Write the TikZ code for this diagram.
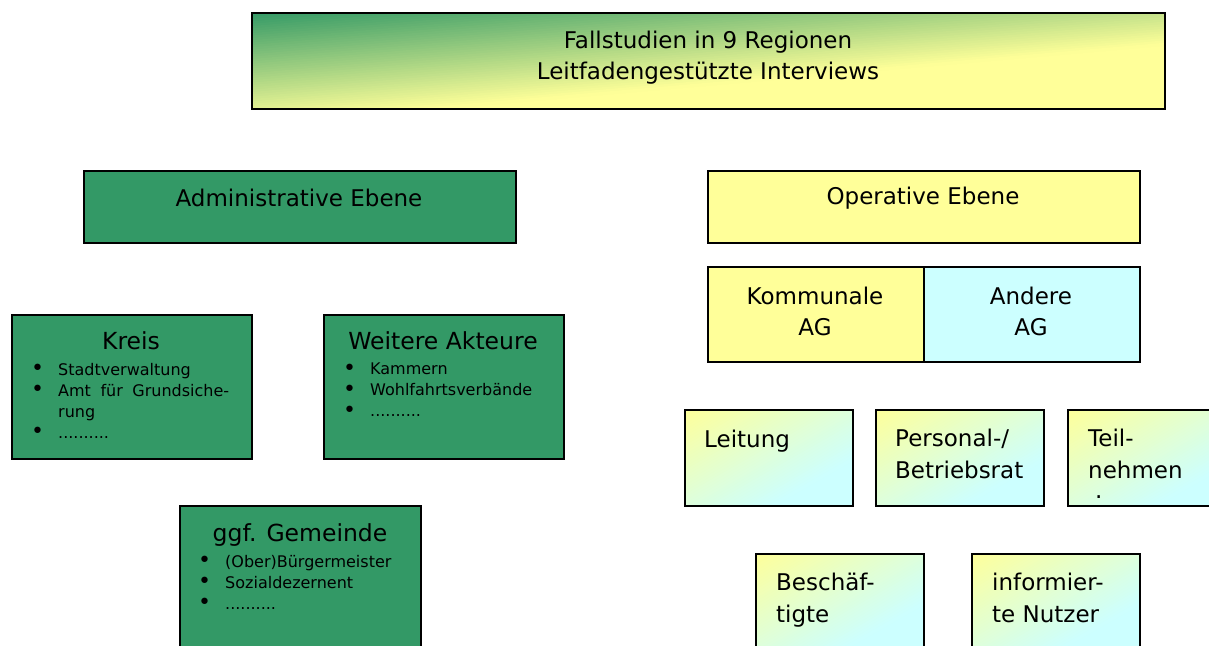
\documentclass[tikz,border=0pt]{standalone}
\usepackage{fontspec}
\setmainfont{DejaVu Sans}
\definecolor{grn}{HTML}{339966}
\definecolor{ylw}{HTML}{FFFF99}
\definecolor{cyn}{HTML}{CCFFFF}
\newcommand{\bul}{\makebox[27pt][l]{\fontsize{22}{21}\selectfont\raisebox{-0.5pt}{•}}}
% linear gradient drawn as strips: x, y, w, h, rotation, gradient length, start colour, end colour
\newcommand{\lingrad}[8]{%
  \begin{scope}
    \clip (#1,#2) rectangle ++(#3,#4);
    \fill[#8] (#1,#2) rectangle ++(#3,#4);
    \begin{scope}[shift={(#1,#2)}, rotate=#5]
      \foreach \i in {0,...,47}{%
        \pgfmathsetmacro{\pp}{(\i+0.5)/48*100}%
        \pgfmathsetmacro{\xa}{\i*#6/48}%
        \pgfmathsetmacro{\xb}{(\i+1)*#6/48+0.7}%
        \fill[#8!\pp!#7] (\xa,-1200) rectangle (\xb,1200);
      }
    \end{scope}
  \end{scope}}
\begin{document}
\begin{tikzpicture}[x=1pt,y=-1pt,
  box/.style={draw=black, line width=1.5pt, rectangle, inner sep=0pt, anchor=north west},
  gbox/.style={box, fill=grn},
  ybox/.style={box, fill=ylw},
  cbox/.style={box, fill=cyn},
  big/.style={font=\fontsize{23}{31}\selectfont, align=center, inner sep=0pt},
  ttl/.style={font=\fontsize{23.5}{28}\selectfont, align=center, inner sep=0pt},
  mid/.style={font=\fontsize{23}{32}\selectfont, align=left, inner sep=0pt, anchor=north west},
  list/.style={font=\fontsize{16}{21}\selectfont, align=left, inner sep=0pt, anchor=north west}
]
\useasboundingbox (0,0) rectangle (1209,645);
\clip (0,0) rectangle (1209,645);
\fill[white] (0,0) rectangle (1209,645);

% top
\lingrad{251}{12}{913}{96}{-85}{112.6}{grn}{ylw}
\node[box, minimum width=913, minimum height=96] (top) at (251,12) {};
\node[big] (toptxt) at (708,58) {Fallstudien in 9 Regionen\\Leitfadengestützte Interviews};

% levels
\node[gbox, minimum width=432, minimum height=72] (adm) at (83,170) {};
\node[big] (admtxt) at (299,198) {Administrative Ebene};
\node[ybox, minimum width=432, minimum height=72] (op) at (707,170) {};
\node[big] (optxt) at (923,198) {Operative Ebene};

\node[ybox, minimum width=216, minimum height=95] (kom) at (707,266) {};
\node[big] (komtxt) at (815,311) {Kommunale\\AG};
\node[cbox, minimum width=216, minimum height=95] (and) at (923,266) {};
\node[big] (andtxt) at (1031,311) {Andere\\AG};

% Kreis
\node[gbox, minimum width=240, minimum height=144] (kreis) at (11,314) {};
\node[ttl] (kreist) at (131,341) {Kreis};
\node[list] (kreisl) at (31,363) {\bul Stadtverwaltung\\\bul \makebox[171pt][s]{Amt für Grundsiche-}\\\makebox[27pt]{}rung\\\bul ..........};

% Weitere Akteure
\node[gbox, minimum width=240, minimum height=144] (weit) at (323,314) {};
\node[ttl] (weitt) at (443,341) {Weitere Akteure};
\node[list] (weitl) at (343,363) {\bul Kammern\\\bul Wohlfahrtsverbände\\\bul ..........};

% Gemeinde
\node[gbox, minimum width=241, minimum height=160] (gem) at (179,505) {};
\node[ttl] (gemt) at (300,535) {ggf. Gemeinde};
\node[list] (geml) at (198,555) {\bul (Ober)Bürgermeister\\\bul Sozialdezernent\\\bul ..........};

% operative small boxes
\lingrad{684}{409}{168}{96}{-60.3}{128.2}{ylw}{cyn}
\node[box, minimum width=168, minimum height=96] (leit) at (684,409) {};
\node[mid] (leitt) at (704,430) {Leitung};
\lingrad{875}{409}{168}{96}{-60.3}{128.2}{ylw}{cyn}
\node[box, minimum width=168, minimum height=96] (pers) at (875,409) {};
\node[mid] (perst) at (895,429) {Personal-/\\Betriebsrat};
\lingrad{1067}{409}{168}{96}{-60.3}{128.2}{ylw}{cyn}
\node[box, minimum width=168, minimum height=96] (teil) at (1067,409) {};
\node[mid] (teilt) at (1088,429) {Teil-\\nehmen};
\node[mid, anchor=base west] (teildot) at (1095,498) {.};

\lingrad{755}{553}{168}{110}{-60.3}{128.2}{ylw}{cyn}
\node[box, minimum width=168, minimum height=110] (besch) at (755,553) {};
\node[mid] (bescht) at (776,573) {Beschäf-\\tigte};
\lingrad{971}{553}{168}{110}{-60.3}{128.2}{ylw}{cyn}
\node[box, minimum width=168, minimum height=110] (info) at (971,553) {};
\node[mid] (infot) at (992,573) {informier-\\te Nutzer};
\end{tikzpicture}
\end{document}
